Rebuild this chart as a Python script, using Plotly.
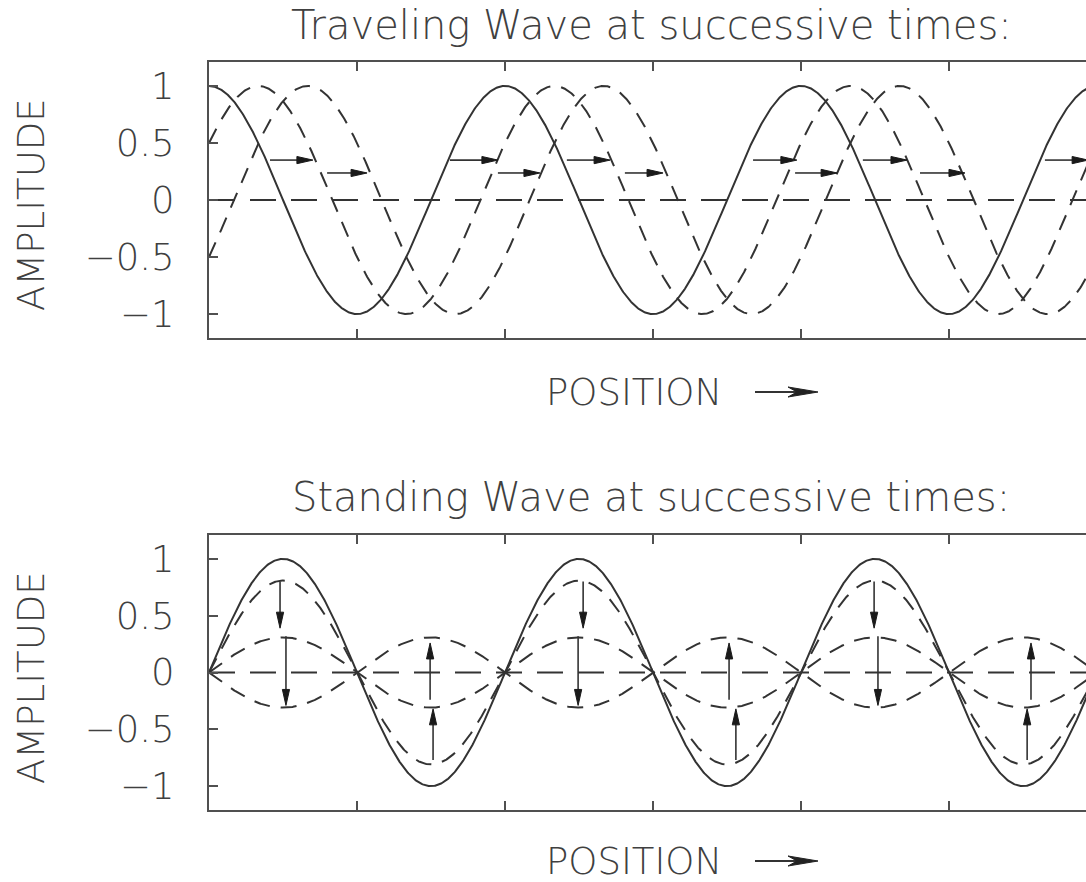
import numpy as np
import plotly.graph_objects as go

# ---------------- data ----------------
TITLE_TOP = "Traveling Wave at successive times:"
TITLE_BOTTOM = "Standing Wave at successive times:"
X_LABEL = "POSITION"
Y_LABEL = "AMPLITUDE"
Y_TICKS = [-1, -0.5, 0, 0.5, 1]
X_TICK_STEP = 0.5            # ticks every half wavelength

# traveling wave: phase shift (in wavelengths) of successive snapshots
TRAVEL_SHIFTS = [0.0, 1 / 6, 1 / 3]
TRAVEL_DASH = ["solid", "dash", "dash"]

# horizontal arrows in traveling-wave panel
TRAVEL_ARROW_Y = [0.35, 0.35, 0.35, 0.35, 0.35, 0.35,
                  0.237, 0.237, 0.237, 0.237, 0.237]
TRAVEL_ARROW_X0 = [0.206, 0.814, 1.209, 1.838, 2.209, 2.824,
                   0.399, 0.976, 1.405, 1.980, 2.402]
TRAVEL_ARROW_X1 = [0.351, 0.976, 1.355, 1.986, 2.358, 2.970,
                   0.534, 1.118, 1.534, 2.122, 2.554]

# standing wave: amplitude of successive snapshots (cos of 0, 36, 72, 108 deg)
STAND_AMPS = [1.0, 0.809, 0.309, -0.309]
STAND_DASH = ["solid", "dash", "dash", "dash"]

# vertical arrows in standing-wave panel
STAND_ARROW_X = [0.240, 0.260, 0.757, 0.747, 1.264, 1.247,
                 1.780, 1.757, 2.247, 2.260, 2.764, 2.777]
STAND_ARROW_Y0 = [0.80, 0.32, -0.77, -0.24, 0.80, 0.32,
                  -0.77, -0.24, 0.80, 0.32, -0.77, -0.24]
STAND_ARROW_Y1 = [0.39, -0.29, -0.32, 0.26, 0.39, -0.29,
                  -0.32, 0.26, 0.39, -0.29, -0.32, 0.26]

# ---------------- layout geometry (screen pixels) ----------------
W, H = 1086, 882
ML = 209
PLOT_W = W - ML
PX_PER_WAVELENGTH = 296
X_MAX = PLOT_W / PX_PER_WAVELENGTH
Y_RANGE = [-1.21, 1.21]
TOP_BOX = (62, 338)
BOT_BOX = (535, 810)

def dom(box):
    return [1 - box[1] / H, 1 - box[0] / H]

LINE_COL = "#333333"
AXIS_COL = "#505050"
TEXT_COL = "#404040"
FONT = "DejaVu Sans"
CURVE_DASH = "16px,11px"
ZERO_DASH = "26px,15px"

HEAD_LEN = 16   # px
HEAD_HALF = 3.6  # px

sx = PX_PER_WAVELENGTH
sy_top = (TOP_BOX[1] - TOP_BOX[0]) / (Y_RANGE[1] - Y_RANGE[0])
sy_bot = (BOT_BOX[1] - BOT_BOX[0]) / (Y_RANGE[1] - Y_RANGE[0])

x = np.linspace(0, 3.0, 1501)

fig = go.Figure()

def dash_of(d):
    return None if d == "solid" else CURVE_DASH

# traveling wave curves
for s, d in zip(TRAVEL_SHIFTS, TRAVEL_DASH):
    fig.add_trace(go.Scatter(x=x, y=np.cos(2 * np.pi * (x - s)), mode="lines",
                             line=dict(color=LINE_COL, width=2, dash=dash_of(d)),
                             xaxis="x", yaxis="y", showlegend=False, hoverinfo="skip"))
# standing wave curves
for a, d in zip(STAND_AMPS, STAND_DASH):
    fig.add_trace(go.Scatter(x=x, y=a * np.sin(2 * np.pi * x), mode="lines",
                             line=dict(color=LINE_COL, width=2, dash=dash_of(d)),
                             xaxis="x2", yaxis="y2", showlegend=False, hoverinfo="skip"))
# zero lines
for xa, ya in (("x", "y"), ("x2", "y2")):
    fig.add_trace(go.Scatter(x=[0, 3.0], y=[0, 0], mode="lines",
                             line=dict(color=LINE_COL, width=2, dash=ZERO_DASH),
                             xaxis=xa, yaxis=ya, showlegend=False, hoverinfo="skip"))

# horizontal arrows (traveling)
shx, shy, hx, hy = [], [], [], []
for y0, a, b in zip(TRAVEL_ARROW_Y, TRAVEL_ARROW_X0, TRAVEL_ARROW_X1):
    back = b - HEAD_LEN / sx
    shx += [a, back + 2 / sx, None]
    shy += [y0, y0, None]
    hx += [b, back, back, b, None]
    hy += [y0, y0 + HEAD_HALF / sy_top, y0 - HEAD_HALF / sy_top, y0, None]
fig.add_trace(go.Scatter(x=shx, y=shy, mode="lines", line=dict(color=LINE_COL, width=1.6),
                         xaxis="x", yaxis="y", showlegend=False, hoverinfo="skip"))
fig.add_trace(go.Scatter(x=hx, y=hy, mode="lines", fill="toself", fillcolor="#1a1a1a",
                         line=dict(color="#1a1a1a", width=1),
                         xaxis="x", yaxis="y", showlegend=False, hoverinfo="skip"))

# vertical arrows (standing)
shx, shy, hx, hy = [], [], [], []
for xa, a, b in zip(STAND_ARROW_X, STAND_ARROW_Y0, STAND_ARROW_Y1):
    dirn = 1 if b > a else -1
    back = b - dirn * HEAD_LEN / sy_bot
    shx += [xa, xa, None]
    shy += [a, back + dirn * 2 / sy_bot, None]
    hx += [xa, xa - HEAD_HALF / sx, xa + HEAD_HALF / sx, xa, None]
    hy += [b, back, back, b, None]
fig.add_trace(go.Scatter(x=shx, y=shy, mode="lines", line=dict(color=LINE_COL, width=1.6),
                         xaxis="x2", yaxis="y2", showlegend=False, hoverinfo="skip"))
fig.add_trace(go.Scatter(x=hx, y=hy, mode="lines", fill="toself", fillcolor="#1a1a1a",
                         line=dict(color="#1a1a1a", width=1),
                         xaxis="x2", yaxis="y2", showlegend=False, hoverinfo="skip"))

xaxis_common = dict(range=[0, X_MAX], tick0=0, dtick=X_TICK_STEP, ticks="inside",
                    ticklen=9, tickwidth=2, tickcolor=AXIS_COL, showticklabels=False,
                    showline=True, linecolor=AXIS_COL, linewidth=2, mirror="ticks",
                    showgrid=False, zeroline=False, domain=[0, 1])
yaxis_common = dict(range=Y_RANGE, tickvals=Y_TICKS, ticks="inside", ticklen=9,
                    tickwidth=2, tickcolor=AXIS_COL, showline=True, linecolor=AXIS_COL,
                    linewidth=2, mirror=False, showgrid=False, zeroline=False,
                    ticklabelstandoff=25,
                    tickfont=dict(family=FONT, size=37, color=TEXT_COL, weight=200))

fig.update_layout(
    width=W, height=H, autosize=False,
    margin=dict(l=ML, r=0, t=0, b=0),
    paper_bgcolor="white", plot_bgcolor="white",
    xaxis=dict(xaxis_common, anchor="y"),
    xaxis2=dict(xaxis_common, anchor="y2"),
    yaxis=dict(yaxis_common, domain=dom(TOP_BOX), anchor="x"),
    yaxis2=dict(yaxis_common, domain=dom(BOT_BOX), anchor="x2"),
)

def px_x(p):
    return (p - ML) / PLOT_W

def px_y(p):
    return 1 - p / H

OFF = BOT_BOX[0] - TOP_BOX[0]
LABEL_Y = (392, 392 + OFF - 4)   # POSITION label centres (bottom nudged to stay on page)
ann = []
fnt_title = dict(family=FONT, size=40, color=TEXT_COL, weight=200)
fnt_lab = dict(family=FONT, size=37, color=TEXT_COL, weight=200)
for title, ty in ((TITLE_TOP, 25.5), (TITLE_BOTTOM, 25.5 + OFF - 2)):
    ann.append(dict(text=title, xref="paper", yref="paper", x=px_x(651), y=px_y(ty),
                    xanchor="center", yanchor="middle", showarrow=False, font=fnt_title))
for dy in (0, OFF):
    ann.append(dict(text=Y_LABEL, xref="paper", yref="paper", x=px_x(31), y=px_y(205 + dy),
                    xanchor="center", yanchor="middle", textangle=-90, showarrow=False,
                    font=fnt_lab))
for yc in LABEL_Y:
    ann.append(dict(text=X_LABEL, xref="paper", yref="paper", x=px_x(633.5), y=px_y(yc),
                    xanchor="center", yanchor="middle", showarrow=False, font=fnt_lab))
fig.update_layout(annotations=ann)

# arrow after the POSITION label
shapes = []
for yc in LABEL_Y:
    shapes.append(dict(type="line", xref="paper", yref="paper",
                       x0=px_x(755), x1=px_x(806), y0=px_y(yc), y1=px_y(yc),
                       line=dict(color=LINE_COL, width=2)))
    path = "M {a},{b} L {c},{d} L {e},{f} L {g},{h} Z".format(
        a=px_x(818), b=px_y(yc), c=px_x(788), d=px_y(yc - 5),
        e=px_x(797), f=px_y(yc), g=px_x(788), h=px_y(yc + 5))
    shapes.append(dict(type="path", xref="paper", yref="paper", path=path,
                       fillcolor="#222222", line=dict(color="#222222", width=1)))
fig.update_layout(shapes=shapes)

# remove the default 8px page margin so the figure fills the window exactly
fig.write_html("out.html", config={"displayModeBar": False},
               post_script="document.body.style.margin='0';document.body.style.overflow='hidden';")
